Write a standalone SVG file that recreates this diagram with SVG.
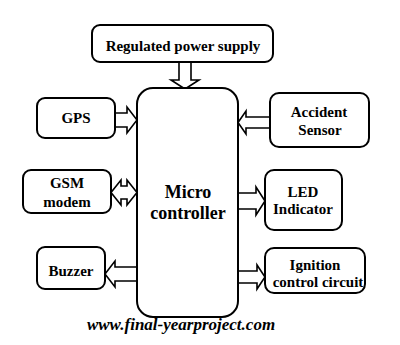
<svg xmlns="http://www.w3.org/2000/svg" width="400" height="345" viewBox="0 0 400 345">
<rect width="400" height="345" fill="#fff"/>
<g id="connectors" fill="#fff" stroke="#000" stroke-width="1.6">
<polygon points="179,62 191,62 191,80 199,80 185,89 171,80 179,80"/>
<polygon points="115,113 127,113 127,107 137,120 127,133 127,127 115,127"/>
<polygon points="111,192.5 121,180 121,186 127,186 127,180 137,192.5 127,205 127,199 121,199 121,205"/>
<polygon points="270,117 246,117 246,111 238,122.5 246,134 246,128 270,128"/>
<polygon points="238,193 256,193 256,187 265,201 256,215 256,209 238,209"/>
<polygon points="137,267 115,267 115,261 105,274 115,287 115,281 137,281"/>
<polygon points="238,271 257,271 257,265 265,277 257,289 257,283 238,283"/>
</g>
<g id="power"><rect x="92" y="25" width="181" height="37" rx="8" fill="#fff" stroke="#000" stroke-width="2"/><text x="183" y="51" font-family="Liberation Serif" font-weight="bold" font-size="15" text-anchor="middle">Regulated power supply</text></g>
<g id="micro"><rect x="137" y="88" width="101" height="229" rx="16" fill="#fff" stroke="#000" stroke-width="2"/><text x="188" y="198" font-family="Liberation Serif" font-weight="bold" font-size="18" text-anchor="middle">Micro</text><text x="188" y="219" font-family="Liberation Serif" font-weight="bold" font-size="18" text-anchor="middle">controller</text></g>
<g id="gps"><rect x="37" y="98" width="78" height="40" rx="8" fill="#fff" stroke="#000" stroke-width="2"/><text x="76" y="123" font-family="Liberation Serif" font-weight="bold" font-size="15" text-anchor="middle">GPS</text></g>
<g id="gsm"><rect x="23" y="170" width="88" height="43" rx="8" fill="#fff" stroke="#000" stroke-width="2"/><text x="67" y="188" font-family="Liberation Serif" font-weight="bold" font-size="15" text-anchor="middle">GSM</text><text x="67" y="207" font-family="Liberation Serif" font-weight="bold" font-size="15" text-anchor="middle">modem</text></g>
<g id="buzzer"><rect x="37" y="247" width="68" height="42" rx="8" fill="#fff" stroke="#000" stroke-width="2"/><text x="71" y="276" font-family="Liberation Serif" font-weight="bold" font-size="15" text-anchor="middle">Buzzer</text></g>
<g id="accident"><rect x="270" y="93" width="99" height="54" rx="9" fill="#fff" stroke="#000" stroke-width="2"/><text x="319" y="117" font-family="Liberation Serif" font-weight="bold" font-size="15" text-anchor="middle">Accident</text><text x="320" y="135" font-family="Liberation Serif" font-weight="bold" font-size="15" text-anchor="middle">Sensor</text></g>
<g id="led"><rect x="265" y="170" width="77" height="60" rx="9" fill="#fff" stroke="#000" stroke-width="2"/><text x="303" y="197" font-family="Liberation Serif" font-weight="bold" font-size="15" text-anchor="middle">LED</text><text x="303" y="214" font-family="Liberation Serif" font-weight="bold" font-size="15" text-anchor="middle">Indicator</text></g>
<g id="ignition"><rect x="265" y="248" width="100" height="45" rx="9" fill="#fff" stroke="#000" stroke-width="2"/><text x="315" y="270" font-family="Liberation Serif" font-weight="bold" font-size="15" text-anchor="middle">Ignition</text><text x="318" y="287" font-family="Liberation Serif" font-weight="bold" font-size="15" text-anchor="middle">control circuit</text></g>
<text x="181" y="330" font-family="Liberation Serif" font-weight="bold" font-style="italic" font-size="17" text-anchor="middle">www.final-yearproject.com</text>
</svg>
